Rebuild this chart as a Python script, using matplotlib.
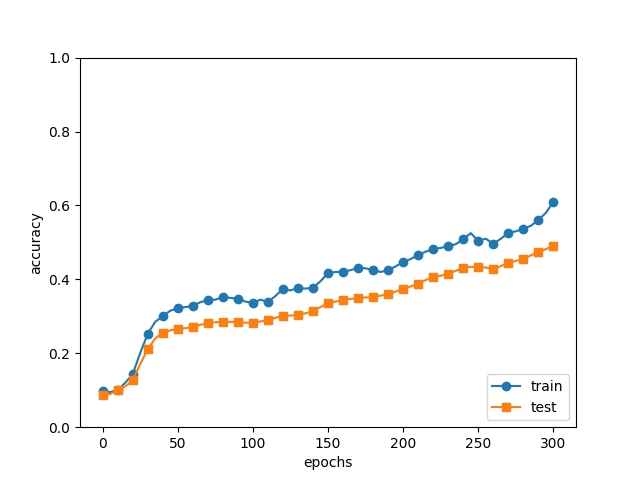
import numpy as np
import matplotlib
matplotlib.use("Agg")
import matplotlib.pyplot as plt

# accuracy every 5 epochs
epochs = np.arange(0, 301, 5)
train_acc = [0.098, 0.095, 0.100, 0.120, 0.143, 0.200, 0.252, 0.285, 0.300, 0.315,
             0.322, 0.325, 0.328, 0.338, 0.344, 0.345, 0.352, 0.350, 0.347, 0.340,
             0.336, 0.345, 0.339, 0.355, 0.374, 0.370, 0.377, 0.375, 0.377, 0.395,
             0.417, 0.420, 0.420, 0.425, 0.431, 0.430, 0.425, 0.420, 0.425, 0.435,
             0.447, 0.455, 0.466, 0.475, 0.482, 0.485, 0.490, 0.495, 0.509, 0.525,
             0.504, 0.510, 0.496, 0.510, 0.526, 0.530, 0.537, 0.545, 0.561, 0.580,
             0.610]
test_acc = [0.087, 0.090, 0.100, 0.110, 0.127, 0.170, 0.211, 0.240, 0.255, 0.262,
            0.266, 0.268, 0.271, 0.277, 0.282, 0.284, 0.285, 0.285, 0.285, 0.283,
            0.282, 0.286, 0.290, 0.296, 0.301, 0.302, 0.304, 0.308, 0.314, 0.325,
            0.336, 0.340, 0.344, 0.347, 0.350, 0.351, 0.352, 0.356, 0.360, 0.367,
            0.374, 0.381, 0.388, 0.398, 0.407, 0.410, 0.415, 0.423, 0.431, 0.434,
            0.434, 0.432, 0.428, 0.436, 0.444, 0.450, 0.455, 0.465, 0.474, 0.482,
            0.490]

plt.figure(figsize=(6.4, 4.8), dpi=100)
plt.plot(epochs, train_acc, marker="o", markevery=2, label="train")
plt.plot(epochs, test_acc, marker="s", markevery=2, label="test")
plt.xlabel("epochs")
plt.ylabel("accuracy")
plt.ylim(0, 1.0)
plt.legend(loc="lower right")
plt.savefig("out.png")
